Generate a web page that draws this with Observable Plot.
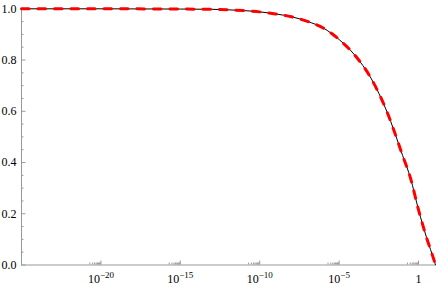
<!DOCTYPE html>
<html><head><meta charset="utf-8">
<script src="https://cdn.jsdelivr.net/npm/d3@7"></script>
<script src="https://cdn.jsdelivr.net/npm/@observablehq/plot@0.6"></script>
<style>
html,body{margin:0;padding:0;background:#fff}
#chart svg, #chart svg text{font-family:"Liberation Serif","DejaVu Serif",serif !important;}
</style>
</head><body><div id="chart"></div>
<script>
// curve values
const xValues = [1e-25, 1e-20, 1e-15, 1e-13, 1e-12, 1e-11, 1e-10, 1e-9, 1e-8, 1e-7, 1e-6, 1e-5, 1e-4, 1e-3, 1e-2, 1e-1, 0.316, 1, 3.16, 10, 11.7];
const yValues = [1.000, 1.000, 0.999, 0.998, 0.996, 0.993, 0.988, 0.980, 0.969, 0.951, 0.925, 0.880, 0.818, 0.730, 0.600, 0.427, 0.338, 0.215, 0.108, 0.014, 0.000];
const xDomain = [1e-25, 11.7];
const yDomain = [0, 1];
const majorXTicks = [1e-20, 1e-15, 1e-10, 1e-5, 1];
const xTickLabels = ["10^-20", "10^-15", "10^-10", "10^-5", "1"];
const minorFactors = [2, 3, 4, 5, 6, 7, 8, 9];
const majorYTicks = [0, 0.2, 0.4, 0.6, 0.8, 1.0];
const minorYTicks = [0.05, 0.1, 0.15, 0.25, 0.3, 0.35, 0.45, 0.5, 0.55, 0.65, 0.7, 0.75, 0.85, 0.9, 0.95];

const data = xValues.map((x, i) => ({x, y: yValues[i]}));
const minorXTicks = majorXTicks.flatMap(m => minorFactors.map(k => k * m / 10));

const W = 436, H = 287, mL = 21, mR = 1, mT = 8.3, mB = 22.5;
const plotH = H - mT - mB, plotW = W - mL - mR;
const axisColor = "#999";
const font = '"Liberation Serif", "DejaVu Serif", serif';

const svg = Plot.plot({
  width: W, height: H,
  marginLeft: mL, marginRight: mR, marginTop: mT, marginBottom: mB,
  style: {fontFamily: font, fontSize: "12px", background: "#fff", color: "#000"},
  x: {type: "log", domain: xDomain, label: null},
  y: {domain: yDomain, label: null},
  marks: [
    Plot.ruleY([0], {stroke: axisColor, strokeWidth: 1}),
    Plot.ruleX([xDomain[0]], {y1: yDomain[0], y2: yDomain[1], stroke: axisColor, strokeWidth: 1}),
    Plot.tickX(majorXTicks, {x: d => d, insetTop: plotH - 4, stroke: axisColor}),
    Plot.tickX(minorXTicks, {x: d => d, insetTop: plotH - 2, stroke: axisColor}),
    Plot.tickY(majorYTicks, {y: d => d, insetRight: plotW - 4.5, stroke: axisColor}),
    Plot.tickY(minorYTicks, {y: d => d, insetRight: plotW - 2.5, stroke: axisColor}),
    Plot.axisX(majorXTicks, {tickSize: 0, tickPadding: 9, label: null, fontFamily: font, fontSize: 12, tickFormat: d => xTickLabels[majorXTicks.indexOf(d)], fill: "#000"}),
    Plot.axisY(majorYTicks, {tickSize: 0, tickPadding: 5, label: null, fontFamily: font, fontSize: 12, tickFormat: d3.format(".1f"), fill: "#000"}),
    Plot.line(data, {x: "x", y: "y", stroke: "#000", strokeWidth: 1, curve: "monotone-x"}),
    Plot.line(data, {x: "x", y: "y", stroke: "#f00", strokeWidth: 3, strokeDasharray: "7.5,9", curve: "monotone-x"})
  ]
});

const ns = "http://www.w3.org/2000/svg";
svg.querySelectorAll('g[aria-label="x-axis tick label"] text').forEach(t => {
  const parts = t.textContent.split("^");
  if (parts.length === 2) {
    t.textContent = parts[0];
    const ts = document.createElementNS(ns, "tspan");
    ts.setAttribute("dy", "-0.45em");
    ts.setAttribute("font-size", "9");
    ts.textContent = parts[1].replace("-", "\u2212");
    t.appendChild(ts);
  }
});
document.getElementById("chart").appendChild(svg);
</script>
</body></html>
